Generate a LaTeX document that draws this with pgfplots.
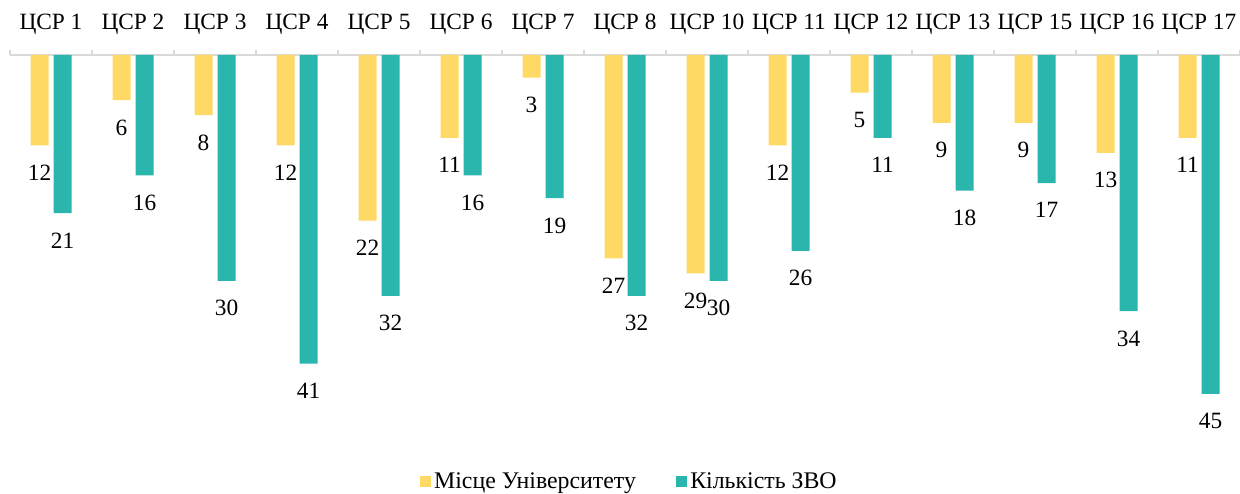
\documentclass[border=0pt]{standalone}
\usepackage{fontspec}
\setmainfont{Liberation Serif}
\usepackage{pgfplots}
\pgfplotsset{compat=1.18}
\definecolor{cY}{RGB}{255,217,102}
\definecolor{cT}{RGB}{42,181,173}
\definecolor{cAx}{RGB}{217,217,217}
\begin{document}
\begin{tikzpicture}
\begin{axis}[
  scale only axis, width=738pt, height=225.9pt,
  y dir=reverse, ymin=0, ymax=50,
  xmin=-0.5, xmax=14.5,
  axis x line*=top, axis y line=none,
  x axis line style={-, draw=cAx, line width=1pt},
  xtick={0,...,14},
  xticklabels={ЦСР 1,ЦСР 2,ЦСР 3,ЦСР 4,ЦСР 5,ЦСР 6,ЦСР 7,ЦСР 8,ЦСР 10,ЦСР 11,ЦСР 12,ЦСР 13,ЦСР 15,ЦСР 16,ЦСР 17},
  minor xtick={-0.5,0.5,...,14.5},
  major tick length=0pt, minor tick length=3pt,
  tick align=outside,
  minor tick style={draw=cAx, line width=1pt},
  xticklabel style={font=\fontsize{14}{16}\selectfont, text=black, yshift=9pt},
  ybar, bar width=10.8pt,
  clip=false,
  nodes near coords,
  nodes near coords align=below,
  every node near coord/.append style={font=\fontsize{14}{16}\selectfont, text=black, yshift=-8.2pt},
  /pgf/number format/assume math mode=true,
  legend style={at={(axis description cs:0.504,-0.134)}, anchor=center, draw=none,
    font=\fontsize{14.3}{16}\selectfont, legend columns=2,
    /tikz/every even column/.append style={column sep=22pt}},
  legend image code/.code={\fill[#1] (0pt,-3.3pt) rectangle (6.6pt,3.3pt);},
]
\addplot[bar shift=-6.9pt, fill=cY, draw=none] coordinates {
(0,12) (1,6) (2,8) (3,12) (4,22) (5,11) (6,3) (7,27) (8,29) (9,12) (10,5) (11,9) (12,9) (13,13) (14,11)};
\addlegendentry{Місце Університету}
\addplot[bar shift=6.9pt, fill=cT, draw=none] coordinates {
(0,21) (1,16) (2,30) (3,41) (4,32) (5,16) (6,19) (7,32) (8,30) (9,26) (10,11) (11,18) (12,17) (13,34) (14,45)};
\addlegendentry{Кількість ЗВО}
\coordinate (TL) at (axis description cs:0,1);
\end{axis}
\pgfresetboundingbox
\path[use as bounding box] (TL) ++(-6pt,33pt) rectangle ++(744pt,-296.4pt);
\end{tikzpicture}
\end{document}
